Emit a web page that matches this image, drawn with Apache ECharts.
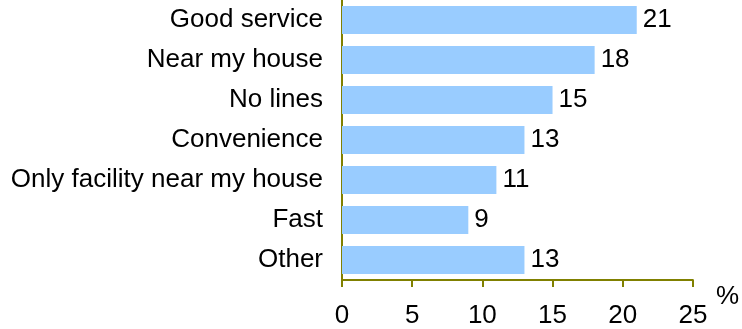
<!DOCTYPE html>
<html>
<head>
<meta charset="utf-8">
<script src="https://cdn.jsdelivr.net/npm/echarts@6/dist/echarts.min.js"></script>
<style>
  html, body { margin: 0; padding: 0; background: #fff; }
  #chart { width: 742px; height: 329px; }
</style>
</head>
<body>
<div id="chart"></div>
<script>
// Reasons for choosing the facility, in percent
const categories = ['Good service', 'Near my house', 'No lines', 'Convenience',
  'Only facility near my house', 'Fast', 'Other'];
const percentages = [21, 18, 15, 13, 11, 9, 13];
const axisMax = 25;
const axisStep = 5;

const axisColor = '#808000';
const font = 'Arial, "Liberation Sans", sans-serif';
const fontSize = 26;

const chart = echarts.init(document.getElementById('chart'), null, { renderer: 'canvas' });
chart.setOption({
  animation: false,
  grid: { left: 342, right: 47, top: 0, bottom: 48, containLabel: false },
  xAxis: {
    type: 'value',
    min: 0,
    max: axisMax,
    interval: axisStep,
    name: '%',
    nameLocation: 'end',
    nameGap: 23,
    nameTextStyle: {
      fontFamily: font, fontSize: fontSize, color: '#000',
      verticalAlign: 'top', padding: [4, 0, 0, 0]
    },
    axisLine: { show: true, lineStyle: { color: axisColor, width: 2 } },
    axisTick: { show: true, length: 7, lineStyle: { color: axisColor, width: 2 } },
    axisLabel: { fontFamily: font, fontSize: fontSize, color: '#000', margin: 23 },
    splitLine: { show: false }
  },
  yAxis: {
    type: 'category',
    data: categories,
    inverse: true,
    axisLine: { show: true, lineStyle: { color: axisColor, width: 2 } },
    axisTick: { show: false },
    axisLabel: { fontFamily: font, fontSize: fontSize, color: '#000', margin: 19 }
  },
  series: [{
    type: 'bar',
    data: percentages,
    barCategoryGap: '30%',
    itemStyle: { color: '#99CCFF' },
    label: {
      show: true,
      position: 'right',
      distance: 6,
      fontFamily: font,
      fontSize: fontSize,
      color: '#000'
    }
  }]
});
</script>
</body>
</html>
